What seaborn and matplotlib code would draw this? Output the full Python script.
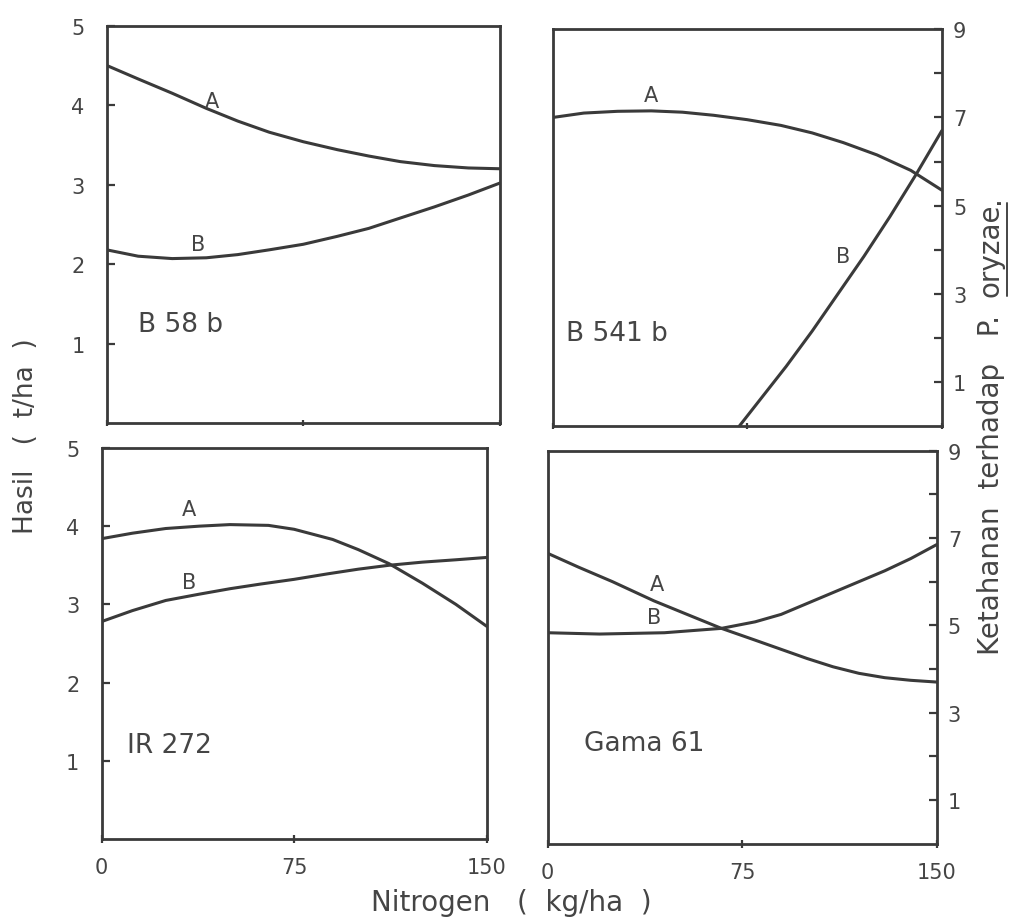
import matplotlib
matplotlib.use("Agg")
import matplotlib.pyplot as plt
import seaborn as sns

# Nitrogen (kg/ha) vs yield (A) and resistance score (B)
# --- B 58 b (left scale 0-5)
b58_x_a = [0, 12, 25, 38, 50, 62, 75, 88, 100, 112, 125, 138, 150]
b58_y_a = [4.5, 4.33, 4.15, 3.96, 3.8, 3.66, 3.54, 3.44, 3.36, 3.29, 3.24, 3.21, 3.2]
b58_x_b = [0, 12, 25, 38, 50, 62, 75, 88, 100, 112, 125, 138, 150]
b58_y_b = [2.18, 2.1, 2.07, 2.08, 2.12, 2.18, 2.25, 2.35, 2.45, 2.58, 2.72, 2.87, 3.02]

# --- B 541 b (right scale 0-9)
b541_x_a = [0, 12, 25, 38, 50, 62, 75, 88, 100, 112, 125, 138, 150]
b541_y_a = [7.0, 7.1, 7.14, 7.15, 7.12, 7.05, 6.95, 6.82, 6.65, 6.43, 6.15, 5.8, 5.35]
b541_x_b = [72, 80, 90, 100, 110, 120, 130, 140, 150]
b541_y_b = [0.0, 0.6, 1.35, 2.15, 3.0, 3.85, 4.75, 5.7, 6.7]

# --- IR 272 (left scale 0-5)
ir_x_a = [0, 12, 25, 38, 50, 65, 75, 90, 100, 112, 125, 138, 150]
ir_y_a = [3.84, 3.91, 3.97, 4.0, 4.02, 4.01, 3.96, 3.83, 3.7, 3.52, 3.27, 3.0, 2.72]
ir_x_b = [0, 12, 25, 38, 50, 62, 75, 88, 100, 112, 125, 138, 150]
ir_y_b = [2.78, 2.92, 3.05, 3.13, 3.2, 3.26, 3.32, 3.39, 3.45, 3.5, 3.54, 3.57, 3.6]

# --- Gama 61 (right scale 0-9)
gama_x_a = [0, 12, 25, 41, 55, 67, 80, 90, 100, 110, 120, 130, 140, 150]
gama_y_a = [6.65, 6.33, 6.0, 5.56, 5.22, 4.93, 4.66, 4.45, 4.24, 4.05, 3.9, 3.8, 3.74, 3.7]
gama_x_b = [0, 20, 45, 67, 80, 90, 100, 110, 120, 130, 140, 150]
gama_y_b = [4.83, 4.8, 4.83, 4.93, 5.08, 5.25, 5.5, 5.75, 6.0, 6.25, 6.53, 6.85]

x_ticks = [0, 75, 150]
left_ticks = [1, 2, 3, 4, 5]
right_ticks = [1, 2, 3, 4, 5, 6, 7, 8, 9]
right_labels = ["1", "", "3", "", "5", "", "7", "", "9"]

INK = "#3a3a3a"
TXT = "#454545"

sns.set_style("ticks")
plt.rcParams["font.family"] = ["DejaVu Sans"]

fig = plt.figure(figsize=(10.16, 9.2), dpi=100)
ax_tl = fig.add_axes([0.105, 0.539, 0.387, 0.432])
ax_tr = fig.add_axes([0.544, 0.536, 0.383, 0.431])
ax_bl = fig.add_axes([0.100, 0.087, 0.379, 0.425])
ax_br = fig.add_axes([0.539, 0.082, 0.383, 0.427])

panels = [
    (ax_tl, "B 58 b", "left", (b58_x_a, b58_y_a), (b58_x_b, b58_y_b),
     (40, 4.05), (35, 2.25), (12, 1.25)),
    (ax_tr, "B 541 b", "right", (b541_x_a, b541_y_a), (b541_x_b, b541_y_b),
     (38, 7.5), (112, 3.85), (5, 2.1)),
    (ax_bl, "IR 272", "left", (ir_x_a, ir_y_a), (ir_x_b, ir_y_b),
     (34, 4.22), (34, 3.28), (10, 1.2)),
    (ax_br, "Gama 61", "right", (gama_x_a, gama_y_a), (gama_x_b, gama_y_b),
     (42, 5.95), (41, 5.2), (14, 2.3)),
]

for ax, name, side, (xa, ya), (xb, yb), pos_a, pos_b, pos_n in panels:
    sns.lineplot(x=xa, y=ya, ax=ax, color=INK, linewidth=2.2)
    sns.lineplot(x=xb, y=yb, ax=ax, color=INK, linewidth=2.2)
    ax.text(*pos_a, "A", fontsize=15, color=TXT, ha="center", va="center")
    ax.text(*pos_b, "B", fontsize=15, color=TXT, ha="center", va="center")
    ax.text(*pos_n, name, fontsize=19, color=TXT, ha="left", va="center")

    ax.set_xlim(0, 150)
    ax.set_xticks(x_ticks)
    if side == "left":
        ax.set_ylim(0, 5)
        ax.set_yticks(left_ticks)
        ax.yaxis.tick_left()
        ypad = 16
    else:
        ax.set_ylim(0, 9)
        ax.set_yticks(right_ticks)
        ax.set_yticklabels(right_labels)
        ax.yaxis.tick_right()
        ypad = 8
    ax.tick_params(axis="y", direction="in", length=6, width=1.6, color=INK,
                   labelcolor=TXT, labelsize=15, pad=ypad)
    ax.tick_params(axis="x", direction="inout", length=6, width=1.6, color=INK,
                   labelcolor=TXT, labelsize=15, pad=10)
    for s in ax.spines.values():
        s.set_visible(True)
        s.set_linewidth(2.0)
        s.set_color(INK)

# top panels: only the 75 mark on the bottom edge
for ax in (ax_tl, ax_tr):
    ax.set_xticklabels([])
    ax.tick_params(axis="x", length=5)

fig.text(0.026, 0.526, "Hasil   (  t/ha  )", rotation=90, fontsize=19,
         color=TXT, ha="center", va="center")
fig.text(0.503, 0.018, "Nitrogen   (  kg/ha  )", fontsize=20, color=TXT,
         ha="center", va="center")

# right label, "oryzae" underlined (mathtext has no \underline)
fig.canvas.draw()
renderer = fig.canvas.get_renderer()
rx = 0.975
t1 = fig.text(rx, 0.288, "Ketahanan  terhadap   P.  ", rotation=90, fontsize=20,
              color=TXT, ha="center", va="bottom")
bb1 = t1.get_window_extent(renderer).transformed(fig.transFigure.inverted())
t2 = fig.text(rx, bb1.y1, "oryzae", rotation=90, fontsize=20, color=TXT,
              ha="center", va="bottom")
bb2 = t2.get_window_extent(renderer).transformed(fig.transFigure.inverted())
fig.text(rx, bb2.y1, ".", rotation=90, fontsize=20, color=TXT,
         ha="center", va="bottom")
ux = bb2.x1 + 2 / 1016
fig.add_artist(plt.Line2D([ux, ux], [bb2.y0, bb2.y1], transform=fig.transFigure,
                          color=TXT, linewidth=1.4))

fig.savefig("out.png", dpi=100, facecolor="white")
